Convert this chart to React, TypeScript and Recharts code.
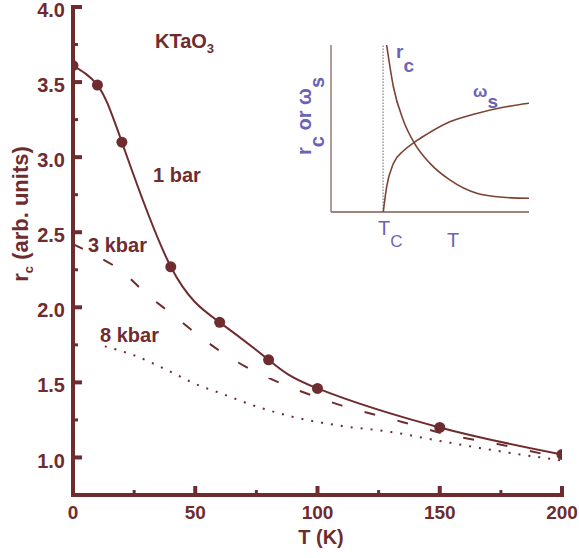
import React from 'react';
import { LineChart, Line, XAxis, YAxis, ReferenceLine } from 'recharts';

// ---------- data ----------
const T_TICKS = [0, 25, 50, 75, 100, 125, 150, 175, 200];
const R_TICKS = [1, 1.25, 1.5, 1.75, 2, 2.25, 2.5, 2.75, 3, 3.25, 3.5, 3.75, 4];

const bar1T = [0, 10, 20, 40, 60, 80, 100, 150, 200];
const bar1R = [3.61, 3.48, 3.1, 2.27, 1.9, 1.65, 1.46, 1.2, 1.02];

const kbar3T = [0, 10, 20, 30, 40, 50, 60, 70, 80, 90, 100, 110, 120, 135, 150, 175, 200];
const kbar3R = [2.42, 2.34, 2.24, 2.09, 1.96, 1.83, 1.71, 1.61, 1.53, 1.46, 1.4, 1.345, 1.3, 1.235, 1.165, 1.085, 0.995];

const kbar8T = [13, 25, 40, 50, 60, 75, 90, 110, 130, 150, 175, 200];
const kbar8R = [1.74, 1.68, 1.57, 1.49, 1.43, 1.34, 1.27, 1.21, 1.17, 1.11, 1.04, 0.98];

const insetRcT = [2.81, 3.15, 3.65, 4.24, 5.0, 6.0, 7.36, 8.7, 10];
const insetRcV = [1.0, 0.75, 0.55, 0.407, 0.291, 0.192, 0.112, 0.088, 0.082];
const insetWsT = [2.64, 2.81, 3.15, 3.65, 4.24, 4.83, 6.0, 7.36, 8.7, 10];
const insetWsV = [0, 0.15, 0.29, 0.365, 0.42, 0.465, 0.54, 0.59, 0.627, 0.651];
const INSET_TC = 2.63;

// ---------- styles ----------
const MAROON = '#6f2c2f';
const BLUE = '#6a63b6';
const INSET_CURVE = '#7b4334';
const FONT = '"Liberation Sans", Arial, Helvetica, sans-serif';

const zip = (xs: number[], ys: number[], kx: string, ky: string) =>
  xs.map((x, i) => ({ [kx]: x, [ky]: ys[i] }));

const bar1 = zip(bar1T, bar1R, 't', 'r');
const kbar3 = zip(kbar3T, kbar3R, 't', 'r');
const kbar8 = zip(kbar8T, kbar8R, 't', 'r');
const rcData = zip(insetRcT, insetRcV, 't', 'v');
const wsData = zip(insetWsT, insetWsV, 't', 'v');

const isMajorT = (v: number) => Math.abs(v % 50) < 1e-6;
const isMajorR = (v: number) => Math.abs(v * 2 - Math.round(v * 2)) < 1e-6;

const LEFT_MARGIN = 7;
const BOTTOM_MARGIN = 11;

const LeftTick = (p: any) => {
  const v = p.payload.value;
  const major = isMajorR(v);
  const ax = p.x + LEFT_MARGIN;
  return (
    <g>
      <line x1={ax} x2={ax + (major ? 9 : 5)} y1={p.y} y2={p.y} stroke={MAROON} strokeWidth={major ? 4 : 3} />
      {major && (
        <text x={p.x - 1} y={p.y + 3} dy="0.355em" textAnchor="end" fill={MAROON} fontFamily={FONT} fontWeight="bold" fontSize={20}>
          {v.toFixed(1)}
        </text>
      )}
    </g>
  );
};

const RightTick = (p: any) => {
  const v = p.payload.value;
  const major = isMajorR(v);
  return <line x1={p.x} x2={p.x - (major ? 9 : 5)} y1={p.y} y2={p.y} stroke={MAROON} strokeWidth={major ? 4 : 3} />;
};

const BottomTick = (p: any) => {
  const v = p.payload.value;
  const major = isMajorT(v);
  const ay = p.y - BOTTOM_MARGIN;
  return (
    <g>
      <line x1={p.x} x2={p.x} y1={ay} y2={ay - (major ? 9 : 5)} stroke={MAROON} strokeWidth={major ? 4 : 3} />
      {major && (
        <text x={p.x} y={p.y} dy="0.71em" textAnchor="middle" fill={MAROON} fontFamily={FONT} fontWeight="bold" fontSize={19}>
          {String(v)}
        </text>
      )}
    </g>
  );
};

const TopTick = (p: any) => {
  const v = p.payload.value;
  const major = isMajorT(v);
  return <line x1={p.x} x2={p.x} y1={p.y} y2={p.y + (major ? 9 : 5)} stroke={MAROON} strokeWidth={major ? 4 : 3} />;
};

const axisLine = { stroke: MAROON, strokeWidth: 4, strokeLinecap: 'square' as const };

const txt = { fill: MAROON, fontFamily: FONT, fontWeight: 'bold' as const };
const btxt = { fill: BLUE, fontFamily: FONT };

export default function App() {
  const W = 579;
  const H = 558;
  return (
    <div style={{ position: 'absolute', left: 0, top: 0, width: W, height: H, background: '#fff' }}>
      <LineChart width={W} height={H} margin={{ top: 7, right: 17, bottom: 0, left: 0 }}>
        <XAxis
          xAxisId="b"
          type="number"
          dataKey="t"
          domain={[0, 200]}
          ticks={T_TICKS}
          interval={0}
          orientation="bottom"
          height={63}
          tickSize={0}
          tickMargin={BOTTOM_MARGIN}
          tickLine={false}
          axisLine={axisLine}
          tick={(p: any) => <BottomTick {...p} />}
          allowDataOverflow
        />
        <XAxis
          xAxisId="t"
          type="number"
          domain={[0, 200]}
          ticks={T_TICKS}
          interval={0}
          orientation="top"
          height={0}
          tickSize={0}
          tickMargin={0}
          tickLine={false}
          axisLine={axisLine}
          tick={(p: any) => <TopTick {...p} />}
          allowDataOverflow
        />
        <YAxis
          yAxisId="l"
          type="number"
          domain={[0.75, 4]}
          ticks={R_TICKS}
          interval={0}
          width={73}
          tickSize={0}
          tickMargin={LEFT_MARGIN}
          tickLine={false}
          axisLine={axisLine}
          tick={(p: any) => <LeftTick {...p} />}
          allowDataOverflow
        />
        <YAxis
          yAxisId="r"
          orientation="right"
          type="number"
          domain={[0.75, 4]}
          ticks={R_TICKS}
          interval={0}
          width={0}
          tickSize={0}
          tickMargin={0}
          tickLine={false}
          axisLine={axisLine}
          tick={(p: any) => <RightTick {...p} />}
          allowDataOverflow
        />
        <Line
          xAxisId="b"
          yAxisId="l"
          data={kbar8}
          dataKey="r"
          type="monotone"
          stroke={MAROON}
          strokeWidth={2}
          strokeDasharray="2 8"
          dot={false}
          isAnimationActive={false}
        />
        <Line
          xAxisId="b"
          yAxisId="l"
          data={kbar3}
          dataKey="r"
          type="monotone"
          stroke={MAROON}
          strokeWidth={2}
          strokeDasharray="11 23"
          dot={false}
          isAnimationActive={false}
        />
        <Line
          xAxisId="b"
          yAxisId="l"
          data={bar1}
          dataKey="r"
          type="natural"
          stroke={MAROON}
          strokeWidth={2}
          dot={{ r: 5.5, fill: MAROON, stroke: 'none' }}
          isAnimationActive={false}
        />
        <text x={155} y={48} fontSize={20} {...txt}>
          KTaO<tspan fontSize={13} dy={5}>3</tspan>
        </text>
        <text x={153} y={182} fontSize={20} {...txt}>1 bar</text>
        <text x={88} y={252} fontSize={20} {...txt}>3 kbar</text>
        <text x={100} y={342} fontSize={20} {...txt}>8 kbar</text>
        <text x={321} y={544} fontSize={20} textAnchor="middle" {...txt}>T (K)</text>
        <text transform="translate(28,214) rotate(-90)" fontSize={22} textAnchor="middle" {...txt}>
          r<tspan fontSize={13} dy={5}>c</tspan>
          <tspan dy={-5}> (arb. units)</tspan>
        </text>
      </LineChart>

      <div style={{ position: 'absolute', left: 280, top: 20 }}>
        <LineChart width={270} height={240} margin={{ top: 25, right: 21, bottom: 0, left: 0 }}>
          <XAxis
            type="number"
            dataKey="t"
            domain={[0, 10]}
            height={48}
            tick={false}
            tickLine={false}
            axisLine={{ stroke: '#7d5a52', strokeWidth: 1.6 }}
            allowDataOverflow
          />
          <YAxis
            type="number"
            domain={[0, 1]}
            width={51}
            tick={false}
            tickLine={false}
            axisLine={{ stroke: '#a07f80', strokeWidth: 1.6 }}
            allowDataOverflow
          />
          <ReferenceLine x={INSET_TC} stroke="#8a7b74" strokeWidth={1.2} strokeDasharray="1.5 1.5" />
          <Line data={rcData} dataKey="v" type="monotone" stroke={INSET_CURVE} strokeWidth={1.6} dot={false} isAnimationActive={false} />
          <Line data={wsData} dataKey="v" type="monotone" stroke={INSET_CURVE} strokeWidth={1.6} dot={false} isAnimationActive={false} />
          <text x={116} y={38} fontSize={19} fontWeight="bold" {...btxt}>
            r<tspan dy={14}>c</tspan>
          </text>
          <text x={193} y={77} fontSize={17} fontWeight="bold" {...btxt}>
            ω<tspan dy={11} fontSize={19}>s</tspan>
          </text>
          <text x={98} y={215} fontSize={20} {...btxt}>
            T<tspan dy={12} fontSize={17}>C</tspan>
          </text>
          <text x={167} y={227} fontSize={20} {...btxt}>T</text>
          <text transform="translate(31,96) rotate(-90)" fontSize={20} fontWeight="bold" textAnchor="middle" {...btxt}>
            r<tspan dy={13}>c</tspan>
            <tspan dy={-13}> or ω</tspan>
            <tspan dy={13}>s</tspan>
          </text>
        </LineChart>
      </div>
    </div>
  );
}
